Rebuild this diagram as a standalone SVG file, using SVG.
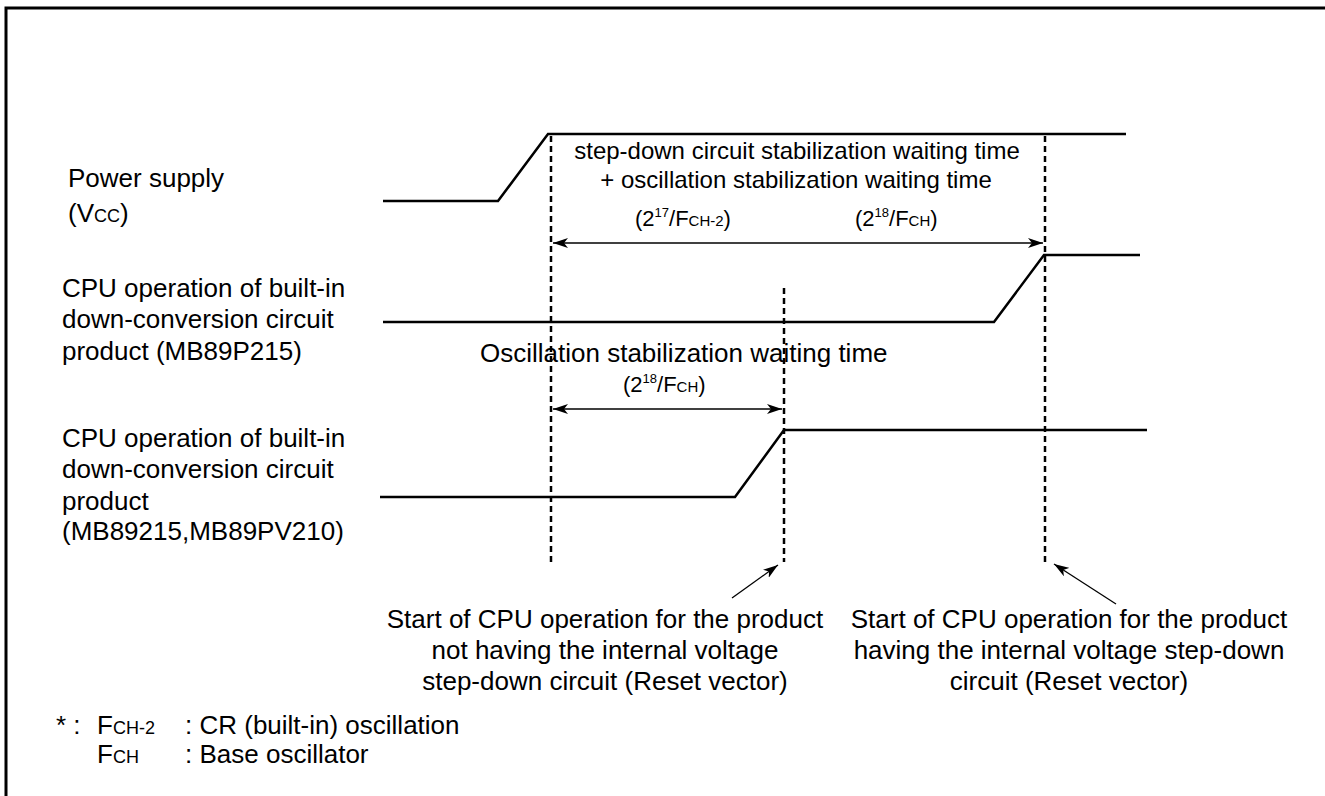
<svg xmlns="http://www.w3.org/2000/svg" width="1325" height="796" viewBox="0 0 1325 796">
  <style>
    text { font-family: "Liberation Sans", Arial, sans-serif; fill: #000; }
    .lbl { font-size: 26px; }
    .cap { font-size: 24px; text-anchor: middle; }
    .tm { font-size: 22px; }
    .sm { font-size: 15px; }
    .ssm { font-size: 18px; }
    .sup { font-size: 13px; }
    .note { font-size: 26px; text-anchor: middle; }
    .wave { fill: none; stroke: #000; stroke-width: 2.5; stroke-linejoin: miter; }
    .dash { fill: none; stroke: #000; stroke-width: 2.5; stroke-dasharray: 6 4; }
    .dim { fill: none; stroke: #000; stroke-width: 1.3; }
  </style>
  <defs>
    <marker id="head" markerUnits="userSpaceOnUse" markerWidth="16" markerHeight="10" refX="15" refY="5" orient="auto-start-reverse">
      <path d="M0,0 L15,5 L0,10 L4,5 Z" fill="#000"/>
    </marker>
  </defs>

  <!-- outer frame -->
  <rect x="6" y="8" width="1340" height="800" fill="none" stroke="#000" stroke-width="3"/>

  <!-- signal names -->
  <g id="label-vcc">
    <text class="lbl" x="68" y="187">Power supply</text>
    <text class="lbl" x="68" y="222">(V<tspan class="ssm">CC</tspan>)</text>
  </g>
  <g id="label-p215">
    <text class="lbl" x="62" y="297">CPU operation of built-in</text>
    <text class="lbl" x="62" y="328">down-conversion circuit</text>
    <text class="lbl" x="62" y="360">product (MB89P215)</text>
  </g>
  <g id="label-p210">
    <text class="lbl" x="62" y="447">CPU operation of built-in</text>
    <text class="lbl" x="62" y="478">down-conversion circuit</text>
    <text class="lbl" x="62" y="510">product</text>
    <text class="lbl" x="62" y="540">(MB89215,MB89PV210)</text>
  </g>

  <!-- waveforms -->
  <g id="wave-vcc">
    <path class="wave" d="M383,201 L498,201 L548,134 L1126,134"/>
  </g>
  <g id="wave-p215">
    <path class="wave" d="M383,322 L994,322 L1044,255 L1140,255"/>
  </g>
  <g id="wave-p210">
    <path class="wave" d="M380,497 L735,497 L784,430 L1147,430"/>
  </g>

  <!-- timing markers and dimension arrows -->
  <g id="connectors">
    <line class="dash" x1="551" y1="136" x2="551" y2="562"/>
    <line class="dash" x1="1045" y1="136" x2="1045" y2="562"/>
    <line class="dash" x1="784" y1="288" x2="784" y2="562"/>
    <line class="dim" x1="553" y1="243" x2="1043" y2="243" marker-start="url(#head)" marker-end="url(#head)"/>
    <line class="dim" x1="553" y1="409" x2="782" y2="409" marker-start="url(#head)" marker-end="url(#head)"/>
    <line class="dim" x1="732" y1="598" x2="778" y2="565" marker-end="url(#head)"/>
    <line class="dim" x1="1116" y1="604" x2="1054" y2="564" marker-end="url(#head)"/>
  </g>

  <!-- timing captions -->
  <g id="caption-stepdown">
    <text class="cap" x="797" y="159">step-down circuit stabilization waiting time</text>
    <text class="cap" x="796" y="188">+ oscillation stabilization waiting time</text>
    <text class="tm" x="635" y="226">(2<tspan class="sup" dy="-9">17</tspan><tspan dy="9">/F</tspan><tspan class="sm">CH-2</tspan>)</text>
    <text class="tm" x="855" y="226">(2<tspan class="sup" dy="-9">18</tspan><tspan dy="9">/F</tspan><tspan class="sm">CH</tspan>)</text>
  </g>
  <g id="caption-osc">
    <text class="lbl" x="480" y="362">Oscillation stabilization waiting time</text>
    <text class="tm" x="623" y="392">(2<tspan class="sup" dy="-9">18</tspan><tspan dy="9">/F</tspan><tspan class="sm">CH</tspan>)</text>
  </g>

  <!-- reset vector notes -->
  <g id="note-no-stepdown">
    <text class="note" x="605" y="628">Start of CPU operation for the product</text>
    <text class="note" x="605" y="659">not having the internal voltage</text>
    <text class="note" x="605" y="690">step-down circuit (Reset vector)</text>
  </g>
  <g id="note-stepdown">
    <text class="note" x="1069" y="628">Start of CPU operation for the product</text>
    <text class="note" x="1069" y="659">having the internal voltage step-down</text>
    <text class="note" x="1069" y="690">circuit (Reset vector)</text>
  </g>

  <!-- footnote -->
  <g id="footnote">
    <text class="lbl" x="56" y="734">* :</text>
    <text class="lbl" x="97" y="734">F<tspan class="ssm">CH-2</tspan></text>
    <text class="lbl" x="185" y="734">: CR (built-in) oscillation</text>
    <text class="lbl" x="97" y="763">F<tspan class="ssm">CH</tspan></text>
    <text class="lbl" x="185" y="763">: Base oscillator</text>
  </g>
</svg>
